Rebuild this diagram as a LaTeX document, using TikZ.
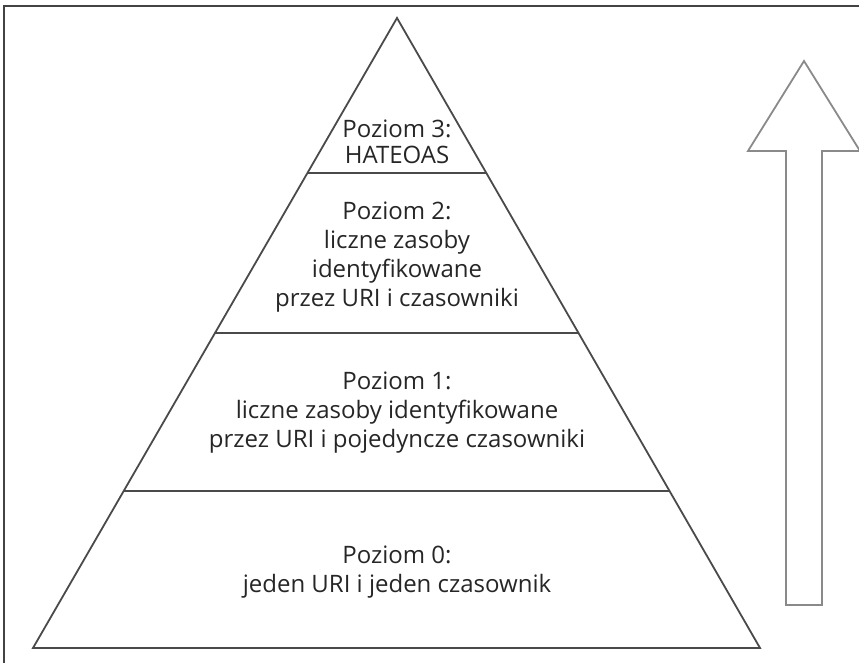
\documentclass[tikz,border=0pt]{standalone}
\usepackage{fontspec}
\setmainfont{Open Sans}
\definecolor{pyr}{HTML}{4A4A4A}
\definecolor{arr}{HTML}{8A8A8A}
\definecolor{txt}{HTML}{262626}
\begin{document}
\begin{tikzpicture}[x=1pt,y=1pt,
  pyrline/.style={draw=pyr,line width=1.8pt,line join=miter},
  arrline/.style={draw=arr,line width=1.8pt,line join=miter},
  levtext/.style={align=center,text=txt,font=\fontsize{24}{29}\selectfont,inner sep=0pt}]
\useasboundingbox (0,0) rectangle (859,663);
% frame
\draw[draw=pyr!90!black,line width=1.6pt] (4,-5) -- (4,657) -- (870,657);
% pyramid
\coordinate (apex) at (397,645);
\coordinate (bl) at (33,15);
\coordinate (br) at (760,15);
\draw[pyrline] (apex) -- (bl) -- (br) -- cycle;
\draw[pyrline] (307.4,490) -- (486.6,490);
\draw[pyrline] (215,330) -- (579,330);
\draw[pyrline] (123.7,172) -- (670.3,172);
% texts
\node[levtext,font=\fontsize{24}{26}\selectfont] (l3) at (397,521) {Poziom 3:\\HATEOAS};
\node[levtext] (l2) at (397,406) {Poziom 2:\\liczne zasoby\\identyfikowane\\przez URI i czasowniki};
\node[levtext] (l1) at (397,250) {Poziom 1:\\liczne zasoby identyfikowane\\przez URI i pojedyncze czasowniki};
\node[levtext] (l0) at (397,91) {Poziom 0:\\jeden URI i jeden czasownik};
% arrow
\draw[arrline] (804,602) -- (860,512) -- (822,512) -- (822,58) -- (786,58) -- (786,512) -- (748,512) -- cycle;
\end{tikzpicture}
\end{document}
